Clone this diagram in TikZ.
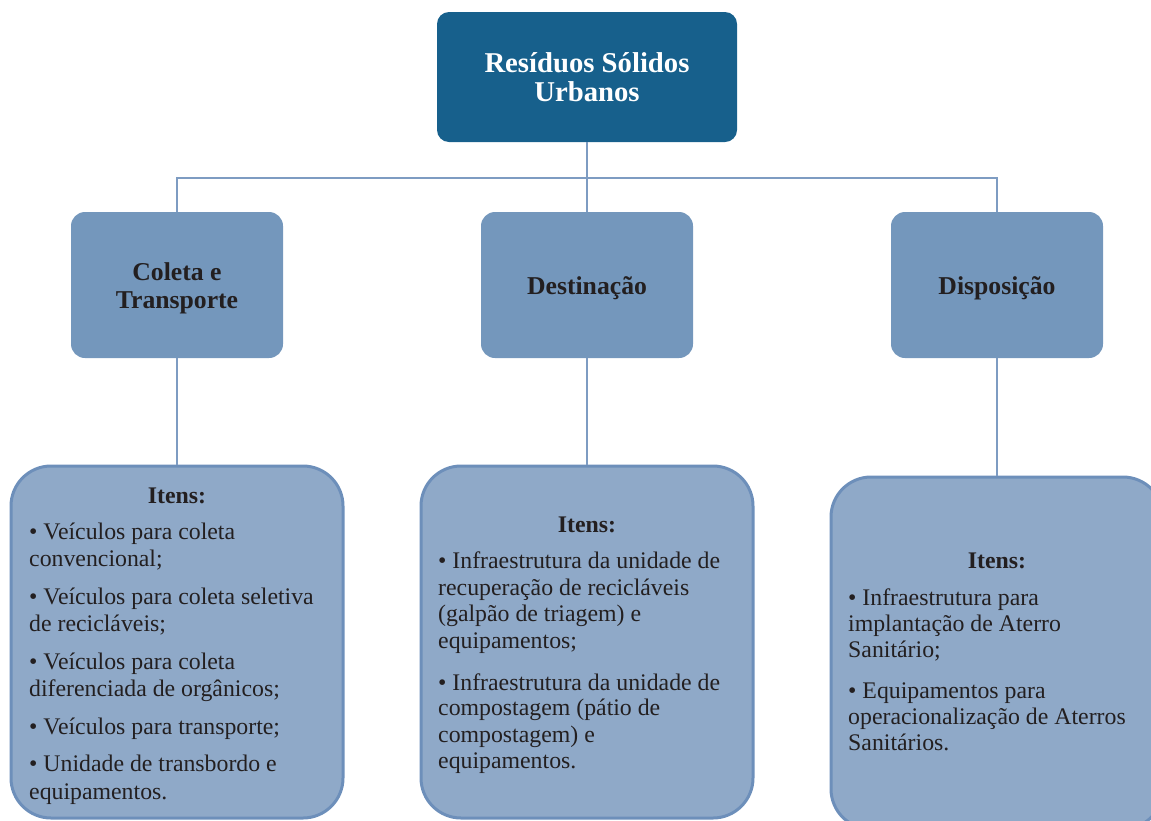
\documentclass[tikz,border=0pt]{standalone}
\usepackage{fontspec}
\setmainfont{Liberation Serif}
\definecolor{topc}{HTML}{17608C}
\definecolor{midc}{HTML}{7497BC}
\definecolor{botfill}{HTML}{8FA9C8}
\definecolor{botdraw}{HTML}{6D8FBA}
\definecolor{linec}{HTML}{7E9CC2}
\definecolor{textc}{HTML}{231F20}
\tikzset{
  topbox/.style={fill=topc, draw=none, rounded corners=12pt, minimum width=300pt, minimum height=130pt,
    text=white, font=\bfseries\fontsize{28.7}{29.5}\selectfont, align=center, inner sep=0pt},
  midbox/.style={fill=midc, draw=none, rounded corners=14pt, minimum width=212pt, minimum height=146pt,
    text=textc, font=\bfseries\fontsize{25.7}{28}\selectfont, align=center, inner sep=0pt},
  botbox/.style={fill=botfill, draw=botdraw, line width=3pt, rounded corners=40pt, minimum width=332pt, minimum height=352pt, inner sep=0pt},
  conn/.style={draw=linec, line width=2.6pt},
  itemtxt/.style={anchor=base west, inner sep=0pt, text=textc, font=\fontsize{23.8}{27}\selectfont},
  headtxt/.style={anchor=base, inner sep=0pt, text=textc, font=\bfseries\fontsize{23.8}{27}\selectfont},
}
\begin{document}
\begin{tikzpicture}[x=1pt, y=-1pt]
\useasboundingbox (0,0) rectangle (1151,820);
\clip (0,0) rectangle (1151,820);
% nodes
\node[topbox] (top) at (587,77) {Resíduos Sólidos\\Urbanos};
\node[midbox] (c1) at (177,285) {};
\node[midbox] (c2) at (587,285) {};
\node[midbox] (c3) at (997,285) {};
\node[midbox, fill=none, minimum width=0pt, minimum height=0pt] (t1) at (177,288) {Coleta e\\Transporte};
\node[midbox, fill=none, minimum width=0pt, minimum height=0pt] (t2) at (587,288.5) {Destinação};
\node[midbox, fill=none, minimum width=0pt, minimum height=0pt] (t3) at (997,288.5) {Disposição};
\coordinate (bus) at (587,178);
% connectors
\draw[conn] (top.south) -- (bus);
\draw[conn] (c1.north) |- (bus) -| (c3.north);
\draw[conn] (bus) -- (c2.north);
\node[botbox] (b1) at (177,642) {};
\node[botbox] (b2) at (587,642) {};
\node[botbox] (b3) at (997,653) {};
\draw[conn] (c1.south) -- (b1.north);
\draw[conn] (c2.south) -- (b2.north);
\draw[conn] (c3.south) -- (b3.north);
% left texts
\node[headtxt] (h1) at (177,503) {Itens:};
\node[itemtxt] (l1) at (29,539) {• Veículos para coleta};
\node[itemtxt] (l2) at (29,566.5) {convencional;};
\node[itemtxt] (l3) at (29,604) {• Veículos para coleta seletiva};
\node[itemtxt] (l4) at (29,631.5) {de recicláveis;};
\node[itemtxt] (l5) at (29,669) {• Veículos para coleta};
\node[itemtxt] (l6) at (29,696.5) {diferenciada de orgânicos;};
\node[itemtxt] (l7) at (29,734) {• Veículos para transporte;};
\node[itemtxt] (l8) at (29,771.5) {• Unidade de transbordo e};
\node[itemtxt] (l9) at (29,799) {equipamentos.};
% middle texts
\node[headtxt] (h2) at (587,532) {Itens:};
\node[itemtxt] (m1) at (438,568.3) {• Infraestrutura da unidade de};
\node[itemtxt] (m2) at (438,595) {recuperação de recicláveis};
\node[itemtxt] (m3) at (438,621.7) {(galpão de triagem) e};
\node[itemtxt] (m4) at (438,648) {equipamentos;};
\node[itemtxt] (m5) at (438,690) {• Infraestrutura da unidade de};
\node[itemtxt] (m6) at (438,715.5) {compostagem (pátio de};
\node[itemtxt] (m7) at (438,742) {compostagem) e};
\node[itemtxt] (m8) at (438,768.5) {equipamentos.};
% right texts
\node[headtxt] (h3) at (997,568) {Itens:};
\node[itemtxt] (r1) at (848,605) {• Infraestrutura para};
\node[itemtxt] (r2) at (848,631) {implantação de Aterro};
\node[itemtxt] (r3) at (848,657) {Sanitário;};
\node[itemtxt] (r4) at (848,698) {• Equipamentos para};
\node[itemtxt] (r5) at (848,724.5) {operacionalização de Aterros};
\node[itemtxt] (r6) at (848,750) {Sanitários.};
\end{tikzpicture}
\end{document}
